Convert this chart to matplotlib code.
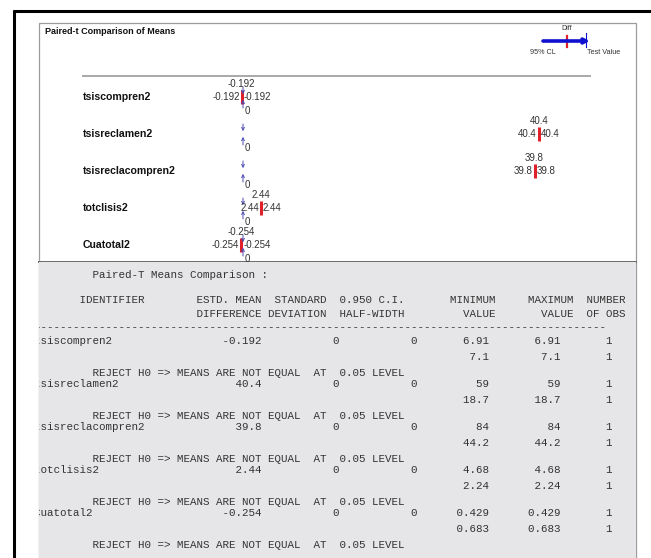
import matplotlib.pyplot as plt
from matplotlib.patches import Rectangle
import matplotlib.transforms as mtransforms

W, H = 651, 558

# data
variables = ["tsiscompren2", "tsisreclamen2", "tsisreclacompren2", "totclisis2", "Cuatotal2"]
mean_diff = [-0.192, 40.4, 39.8, 2.44, -0.254]
std_dev = [0, 0, 0, 0, 0]
half_width = [0, 0, 0, 0, 0]
min_first = [6.91, 59, 84, 4.68, 0.429]
min_second = [7.1, 18.7, 44.2, 2.24, 0.683]
max_first = [6.91, 59, 84, 4.68, 0.429]
max_second = [7.1, 18.7, 44.2, 2.24, 0.683]
n_obs = [1, 1, 1, 1, 1]
test_value = 0

BLUE = "#4b4bb4"
RED = "#e0202a"
TXT = "#333333"

fig = plt.figure(figsize=(W / 100, H / 100), dpi=100)

# background in pixel coordinates
bg = fig.add_axes([0, 0, 1, 1])
bg.set_xlim(0, W)
bg.set_ylim(H, 0)
bg.axis("off")

bg.plot([13, W], [11, 11], color="black", lw=2.2, solid_capstyle="butt")
bg.plot([14, 14], [10, H], color="black", lw=2.2, solid_capstyle="butt")
bg.add_patch(Rectangle((38.5, 22.5), 597, 600, fc="white", ec="#9c9c9c", lw=0.9))
bg.text(45, 32, "Paired-t Comparison of Means", fontsize=6.5, fontweight="bold",
        family="Liberation Sans", va="center", ha="left", color="#111111")
bg.plot([83, 590], [76, 76], color="#a8a8a8", lw=1.4)

# legend
bg.annotate("", xy=(590, 41), xytext=(543, 41),
            arrowprops=dict(arrowstyle="-|>", color="#1010d0", lw=2.6, mutation_scale=7,
                            shrinkA=0, shrinkB=0))
bg.plot([586, 586], [33, 47], color="#1010d0", lw=0.8)
bg.plot([567, 567], [36, 47], color=RED, lw=1.6)
bg.text(567, 28, "Diff", fontsize=5, family="Liberation Sans", ha="center", va="center", color=TXT)
bg.text(556, 53, "95% CL", fontsize=5.2, family="Liberation Sans", ha="right", va="center", color=TXT)
bg.text(587, 53, "Test Value", fontsize=5.2, family="Liberation Sans", ha="left", va="center", color=TXT)

# interval chart
x0_px, k = 243, (539 - 243) / 40.4
left_px, right_px, top_px, bot_px = 83, 590, 76, 262
row0_px, row_step = 97, 37
ax = fig.add_axes([left_px / W, 1 - bot_px / H, (right_px - left_px) / W, (bot_px - top_px) / H])
ax.set_xlim((left_px - x0_px) / k, (right_px - x0_px) / k)
ax.set_ylim((bot_px - row0_px) / row_step, (top_px - row0_px) / row_step)
ax.axis("off")
trans = mtransforms.blended_transform_factory(ax.transAxes, ax.transData)

for i, name in enumerate(variables):
    m = mean_diff[i]
    lo = m - half_width[i]
    hi = m + half_width[i]
    ax.text(0, i, name, transform=trans, fontsize=7.6, fontweight="bold",
            family="Liberation Sans", va="center", ha="left", color="#111111")
    ax.hlines(i, lo, hi, color=BLUE, lw=3)
    # test value arrows
    ax.annotate("", xy=(test_value, i), xytext=(0, 10), textcoords="offset pixels",
                arrowprops=dict(arrowstyle="->", color=BLUE, lw=0.7, mutation_scale=5,
                                shrinkA=0, shrinkB=2))
    ax.annotate("", xy=(test_value, i), xytext=(0, -11), textcoords="offset pixels",
                arrowprops=dict(arrowstyle="->", color=BLUE, lw=0.7, mutation_scale=5,
                                shrinkA=0, shrinkB=2))
    ax.vlines(m, i - 7 / row_step, i + 7 / row_step, color=RED, lw=2.2)
    ax.annotate(f"{m:g}", (m, i), xytext=(0, 13), textcoords="offset pixels",
                fontsize=7, family="Liberation Sans", ha="center", va="center", color=TXT)
    ax.annotate(f"{lo:g}", (lo, i), xytext=(-2, 0), textcoords="offset pixels",
                fontsize=7, family="Liberation Sans", ha="right", va="center", color=TXT)
    ax.annotate(f"{hi:g}", (hi, i), xytext=(2, 0), textcoords="offset pixels",
                fontsize=7, family="Liberation Sans", ha="left", va="center", color=TXT)
    ax.annotate(f"{test_value:g}", (test_value, i), xytext=(4, -14), textcoords="offset pixels",
                fontsize=7, family="Liberation Sans", ha="center", va="center", color=TXT)

# text output panel
tab_top = 262
tab = fig.add_axes([38.5 / W, 0, 597 / W, 1 - tab_top / H])
tab.set_xlim(38.5, 635.5)
tab.set_ylim(H, tab_top)
tab.set_facecolor("#e6e6e8")
for s in tab.spines.values():
    s.set_visible(False)
tab.set_xticks([])
tab.set_yticks([])
bg.plot([38.5, 635.5], [tab_top, tab_top], color="#6a6a6a", lw=1.4)


def line(*cells):
    buf = [" "] * 100
    for txt, end in cells:
        buf[end - len(txt):end] = list(txt)
    return "".join(buf).rstrip()


def num(v):
    return f"{v:g}"


lines = []
lines.append((275, " " * 9 + "Paired-T Means Comparison :"))
lines.append((300, line(("IDENTIFIER", 17), ("ESTD. MEAN", 35), ("STANDARD", 45), ("0.950 C.I.", 57),
                        ("MINIMUM", 71), ("MAXIMUM", 83), ("NUMBER", 91))))
lines.append((314, line(("DIFFERENCE", 35), ("DEVIATION", 45), ("HALF-WIDTH", 57),
                        ("VALUE", 71), ("VALUE", 83), ("OF OBS", 91))))
lines.append((327, "-" * 88))
reject = " " * 9 + "REJECT H0 => MEANS ARE NOT EQUAL  AT  0.05 LEVEL"
for i, name in enumerate(variables):
    y = 341 + 43 * i
    lines.append((y, line((name, len(name)), (num(mean_diff[i]), 35), (num(std_dev[i]), 47),
                          (num(half_width[i]), 59), (num(min_first[i]), 70),
                          (num(max_first[i]), 81), (num(n_obs[i]), 89))))
    lines.append((y + 16, line((num(min_second[i]), 70), (num(max_second[i]), 81),
                               (num(n_obs[i]), 89))))
    lines.append((y + 32, reject))

for y, s in lines:
    tab.text(34, y, s, family="Liberation Mono", fontsize=7.8, color=TXT,
             va="center", ha="left", clip_on=True)

fig.savefig("out.png", dpi=100)
